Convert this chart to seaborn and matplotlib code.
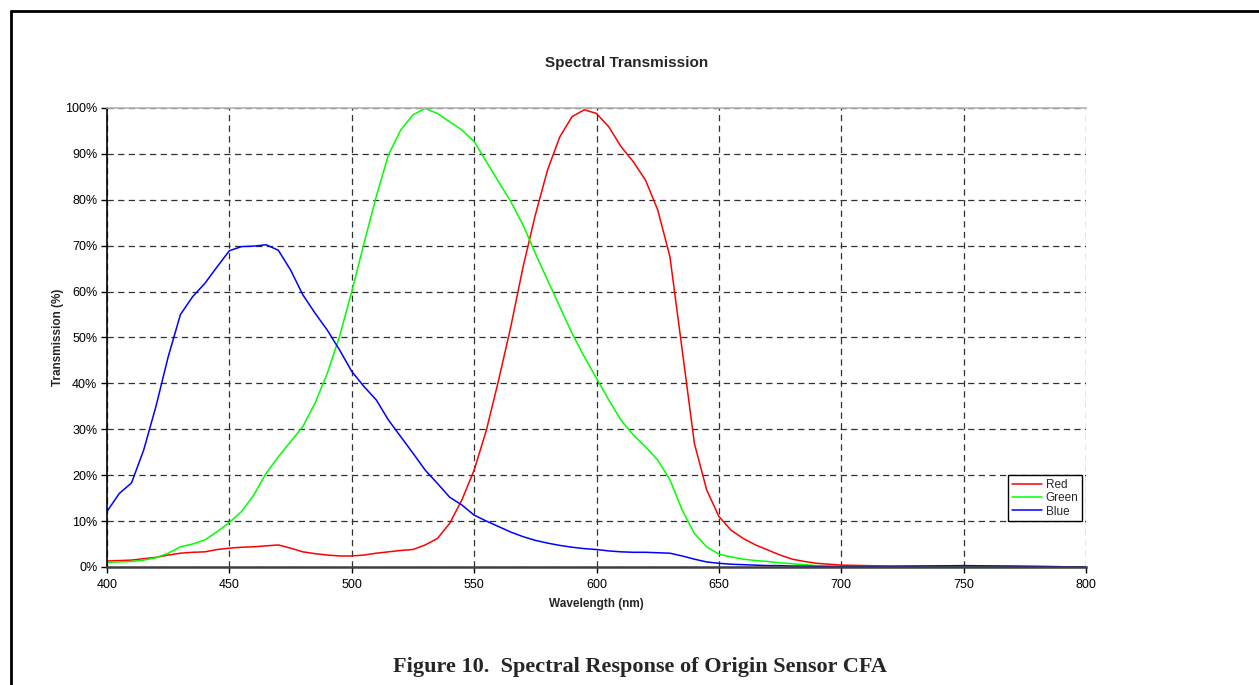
import numpy as np
import pandas as pd
import matplotlib
matplotlib.use("Agg")
import matplotlib.pyplot as plt
from matplotlib.lines import Line2D
from matplotlib.ticker import FuncFormatter, MultipleLocator
import seaborn as sns

# wavelength grid (nm)
wavelength = list(range(400, 701, 5)) + [720, 750, 780, 800]

red = [1.3, 1.4, 1.5, 1.8, 2.1, 2.6, 3.0, 3.2, 3.3, 3.8,
       4.1, 4.3, 4.4, 4.6, 4.8, 4.1, 3.3, 2.9, 2.6, 2.4,
       2.4, 2.6, 3.0, 3.3, 3.6, 3.8, 4.8, 6.2, 9.5, 14.6,
       21.1, 29.8, 40.7, 52.4, 65.4, 76.7, 86.5, 93.7, 98.1, 99.6,
       98.8, 95.9, 91.6, 88.3, 84.3, 77.8, 67.6, 47.3, 26.9, 16.8,
       11.0, 8.0, 6.2, 4.8, 3.7, 2.6, 1.7, 1.2, 0.8, 0.6,
       0.4, 0.2, 0.2, 0.1, 0.0]

green = [1.0, 1.1, 1.2, 1.5, 2.0, 3.0, 4.4, 5.0, 5.9, 7.7,
         9.7, 12.1, 15.7, 20.4, 24.0, 27.3, 30.6, 35.7, 42.2, 50.2,
         60.0, 70.5, 80.7, 89.8, 95.2, 98.5, 99.9, 98.8, 97.0, 95.2,
         92.7, 88.3, 83.9, 79.6, 74.5, 68.3, 62.5, 56.7, 50.9, 45.8,
         41.1, 36.4, 32.0, 28.8, 26.2, 23.3, 19.0, 12.4, 7.3, 4.4,
         2.8, 2.2, 1.7, 1.4, 1.2, 0.9, 0.7, 0.5, 0.3, 0.2,
         0.1, 0.1, 0.2, 0.1, 0.0]

blue = [12.1, 16.0, 18.3, 25.5, 35.0, 45.8, 55.0, 58.9, 61.8, 65.4,
        68.9, 69.8, 69.9, 70.2, 69.0, 64.7, 59.3, 55.3, 51.6, 47.3,
        42.6, 39.3, 36.4, 32.0, 28.4, 24.8, 21.1, 18.2, 15.2, 13.5,
        11.3, 10.0, 8.8, 7.6, 6.6, 5.8, 5.2, 4.7, 4.3, 4.0,
        3.8, 3.5, 3.3, 3.2, 3.2, 3.1, 3.0, 2.4, 1.7, 1.1,
        0.8, 0.6, 0.5, 0.4, 0.3, 0.3, 0.2, 0.2, 0.1, 0.1,
        0.1, 0.1, 0.3, 0.1, 0.0]

series = ["Red", "Green", "Blue"]
colors = {"Red": "#ff0000", "Green": "#00ff00", "Blue": "#0000ff"}

df = pd.concat([
    pd.DataFrame({"Wavelength": wavelength, "Transmission": vals, "Filter": name})
    for name, vals in zip(series, [red, green, blue])
])

sns.set_style("white")
plt.rcParams["font.family"] = ["Liberation Sans", "DejaVu Sans"]

fig = plt.figure(figsize=(12.59, 6.85), dpi=100)
ax = fig.add_axes([0.085, 0.1723, 0.7776, 0.6701])

sns.lineplot(data=df, x="Wavelength", y="Transmission", hue="Filter",
             hue_order=series, palette=colors, linewidth=1.1, ax=ax)

ax.set_xlim(400, 800)
ax.set_ylim(0, 100)
ax.xaxis.set_major_locator(MultipleLocator(50))
ax.yaxis.set_major_locator(MultipleLocator(10))
ax.yaxis.set_major_formatter(FuncFormatter(lambda v, p: f"{v:.0f}%"))
ax.tick_params(axis="both", labelsize=9, length=4, width=1, direction="out",
               colors="black", pad=3)
ax.tick_params(axis="x", pad=5)
ax.tick_params(left=True, bottom=True)

ax.grid(True, color="#303030", linestyle=(0, (5, 3.5)), linewidth=0.9)
ax.set_axisbelow(True)

ax.spines["right"].set_visible(False)
ax.spines["top"].set_color("#b4b4b4")
ax.spines["top"].set_linewidth(1.2)
ax.spines["left"].set_color("black")
ax.spines["left"].set_linewidth(1.2)
ax.spines["bottom"].set_color("#404040")
ax.spines["bottom"].set_linewidth(1.8)

ax.set_xlabel("Wavelength (nm)", fontsize=8.5, fontweight="bold", labelpad=5)
ax.set_ylabel("Transmission (%)", fontsize=8.5, fontweight="bold", labelpad=1)

fig.text(0.4975, 0.9085, "Spectral Transmission", ha="center", va="center",
         fontsize=11, fontweight="bold")

leg = ax.legend(loc="lower right", bbox_to_anchor=(0.996, 0.100), fontsize=8.5,
                frameon=True, fancybox=False, edgecolor="black",
                handlelength=2.6, handletextpad=0.3, borderpad=0.3,
                labelspacing=0.12, borderaxespad=0)
leg.get_frame().set_linewidth(1.0)
leg.get_frame().set_facecolor("white")
leg.get_frame().set_alpha(1)

fig.text(0.508, 0.027, "Figure 10.  Spectral Response of Origin Sensor CFA",
         ha="center", va="center", fontsize=16, fontweight="bold",
         family=["Liberation Serif", "DejaVu Serif"])

# page frame lines (top and left)
fig.add_artist(Line2D([0.0087, 1.0], [0.984, 0.984], color="black",
                      linewidth=2, transform=fig.transFigure))
fig.add_artist(Line2D([0.0087, 0.0087], [0.0, 0.984], color="black",
                      linewidth=2, transform=fig.transFigure))

fig.savefig("out.png", dpi=100)
